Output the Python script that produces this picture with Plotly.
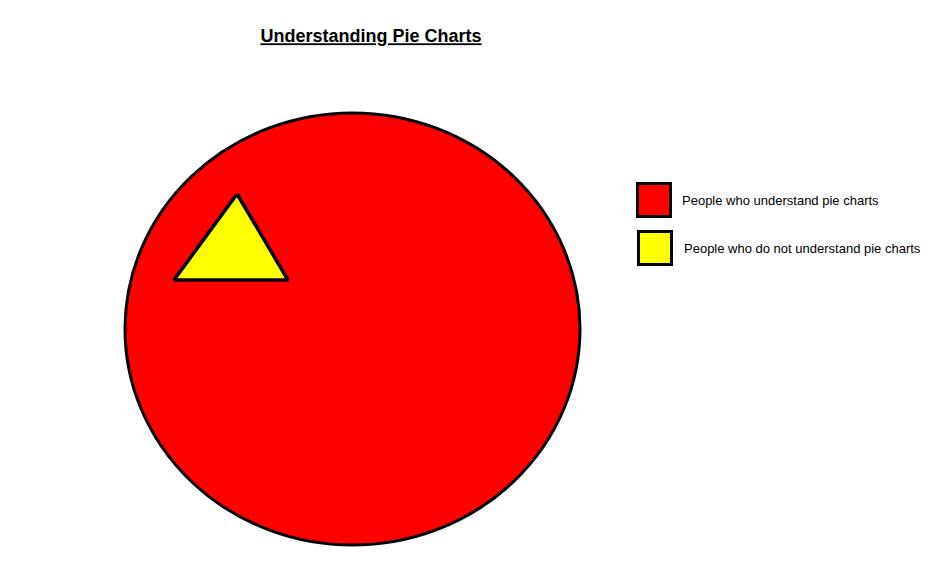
import numpy as np
import plotly.graph_objects as go

# legend entries and their fill colours
categories = ["People who understand pie charts", "People who do not understand pie charts"]
slice_colors = ["#ff0000", "#ffff00"]

# the "slice" of people who don't get it: a triangle (pixel coords, y down)
triangle_x = [237, 174, 288, 237]
triangle_y = [194, 280, 280, 194]

# the pie itself, as an ellipse box
pie_x = [125, 580]
pie_y = [113, 545]

# legend swatch centres and label positions
legend_x = [654, 655]
legend_y = [200, 248]
label_x = [680, 682]

W, H = 931, 574
PAD = 8  # page body margin, so axis units line up with page pixels
FONT = "Liberation Sans, Arial, sans-serif"

fig = go.Figure()

# pie body
fig.add_shape(
    type="circle",
    xref="x", yref="y",
    x0=pie_x[0], x1=pie_x[1], y0=pie_y[0], y1=pie_y[1],
    fillcolor=slice_colors[0],
    line=dict(color="black", width=3),
    layer="below",
)

# the yellow bit
fig.add_trace(go.Scatter(
    x=triangle_x, y=triangle_y,
    mode="lines",
    fill="toself",
    fillcolor=slice_colors[1],
    line=dict(color="black", width=3.5),
    hoverinfo="skip",
    showlegend=False,
))

# hand-made legend: big outlined squares plus labels
fig.add_trace(go.Scatter(
    x=legend_x, y=legend_y,
    mode="markers",
    marker=dict(symbol="square", size=33, color=slice_colors,
                line=dict(color="black", width=3)),
    hoverinfo="skip",
    showlegend=False,
))
for lx, ly, txt in zip(label_x, legend_y, categories):
    fig.add_annotation(
        x=lx, y=ly, text=txt, showarrow=False,
        xanchor="left", yanchor="middle",
        font=dict(family=FONT, size=13, color="black"),
    )

fig.update_layout(
    width=W, height=H,
    autosize=False,
    margin=dict(l=0, r=0, t=0, b=0),
    paper_bgcolor="white",
    plot_bgcolor="white",
    title=dict(
        text="<b><u>Understanding Pie Charts</u></b>",
        x=(371 - PAD) / W, y=1 - (36 - PAD) / H,
        xanchor="center", yanchor="middle",
        font=dict(family=FONT, size=18, color="black"),
    ),
    xaxis=dict(range=[PAD, W + PAD], visible=False, fixedrange=True),
    yaxis=dict(range=[H + PAD, PAD], visible=False, fixedrange=True),
)

fig.write_html("out.html")
